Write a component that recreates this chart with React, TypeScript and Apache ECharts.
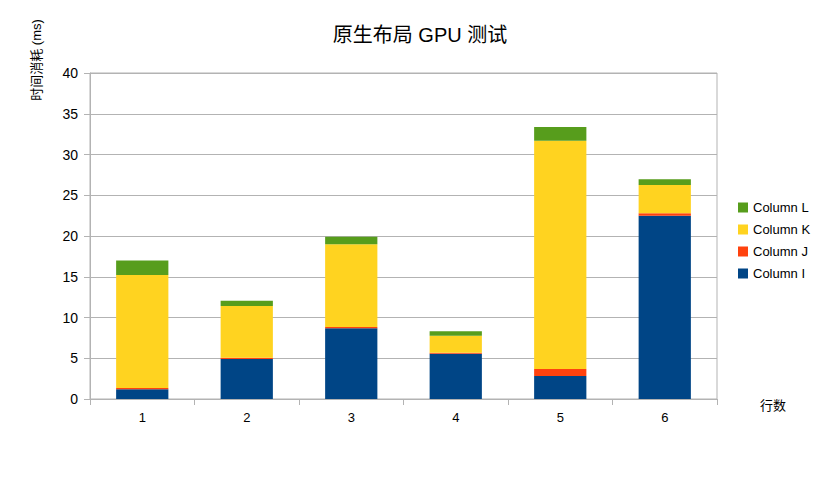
import React, { useEffect, useRef } from "react";
import * as echarts from "echarts";

const categories = ["1", "2", "3", "4", "5", "6"];
const columnI = [1.2, 4.9, 8.67, 5.56, 2.82, 22.5];
const columnJ = [0.15, 0.15, 0.16, 0.12, 0.86, 0.3];
const columnK = [13.85, 6.35, 10.17, 2.09, 28.0, 3.46];
const columnL = [1.8, 0.66, 0.9, 0.53, 1.7, 0.69];
const seriesNames = ["Column I", "Column J", "Column K", "Column L"];
const colors = ["#004586", "#ff420e", "#ffd320", "#579d1c"];

const FONT = "'Liberation Sans', 'Noto Sans CJK SC', sans-serif";

export default function App() {
  const ref = useRef<HTMLDivElement>(null);
  useEffect(() => {
    if (!ref.current) return;
    const chart = echarts.init(ref.current, undefined, { renderer: "svg" });
    const data = [columnI, columnJ, columnK, columnL];
    chart.setOption({
      animation: false,
      textStyle: { fontFamily: FONT },
      title: {
        text: "原生布局 GPU 测试",
        left: 407,
        textAlign: "center",
        top: 12,
        textStyle: { fontSize: 20, fontWeight: "normal", color: "#000", fontFamily: FONT },
      },
      legend: {
        orient: "vertical",
        left: 725,
        top: 188,
        itemWidth: 10,
        itemHeight: 10,
        itemGap: 9,
        icon: "rect",
        data: ["Column L", "Column K", "Column J", "Column I"],
        textStyle: { fontSize: 13, color: "#000", fontFamily: FONT },
      },
      grid: {
        left: 82,
        right: 106,
        top: 65,
        bottom: 75,
        show: true,
        borderColor: "#b3b3b3",
        borderWidth: 1,
      },
      xAxis: {
        type: "category",
        data: categories,
        axisLine: { lineStyle: { color: "#b3b3b3" } },
        axisTick: { show: true, length: 6, lineStyle: { color: "#b3b3b3" } },
        axisLabel: { color: "#000", fontSize: 13, margin: 12 },
      },
      yAxis: {
        type: "value",
        min: 0,
        max: 40,
        interval: 5,
        axisLine: { show: true, lineStyle: { color: "#b3b3b3" } },
        axisTick: { show: true, length: 6, lineStyle: { color: "#b3b3b3" } },
        axisLabel: { color: "#000", fontSize: 14, margin: 12 },
        splitLine: { lineStyle: { color: "#b3b3b3" } },
      },
      graphic: [
        {
          type: "text",
          x: 28,
          y: 52,
          rotation: Math.PI / 2,
          style: {
            text: "时间消耗 (ms)",
            fontSize: 13,
            fill: "#000",
            fontFamily: FONT,
            align: "center",
            verticalAlign: "middle",
          },
        },
        {
          type: "text",
          x: 765,
          y: 397,
          style: {
            text: "行数",
            fontSize: 13,
            fill: "#000",
            fontFamily: FONT,
            align: "center",
            verticalAlign: "middle",
          },
        },
      ],
      series: seriesNames.map((name, i) => ({
        name,
        type: "bar",
        stack: "total",
        barWidth: "50%",
        itemStyle: { color: colors[i] },
        data: data[i],
      })),
    });
    return () => chart.dispose();
  }, []);
  return <div ref={ref} style={{ width: 815, height: 466 }} />;
}
